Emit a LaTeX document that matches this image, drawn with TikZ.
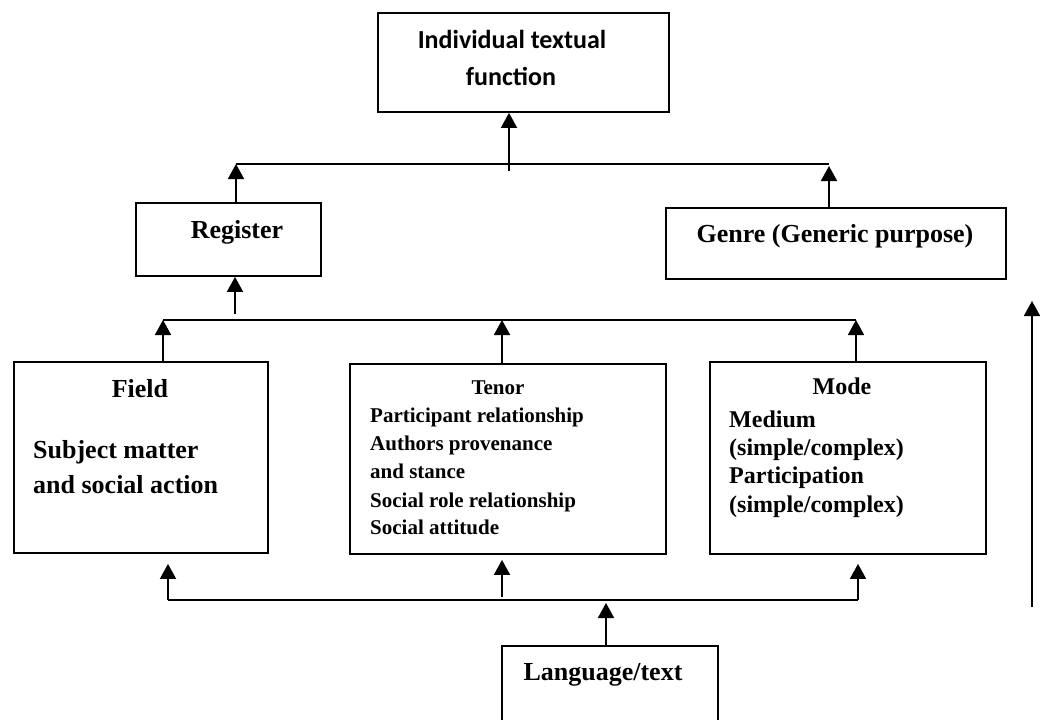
\documentclass[tikz,border=0pt]{standalone}
\usepackage{fontspec}
\setmainfont{Liberation Serif}
\newfontfamily\calibrifont{Carlito}
\usetikzlibrary{positioning}
\usetikzlibrary{arrows.meta}

\begin{document}
\begin{tikzpicture}[x = 1pt, y = -1pt,
	box/.style = {draw = black, line width = 1.9pt, anchor = north west, inner sep = 0pt},
	bus/.style = {black, line width = 1.6pt},
	arrow/.style = {black, line width = 1.8pt, -{Triangle[width = 16pt, length = 15pt]}},
	big/.style = {font = \bfseries\fontsize{26}{30}\selectfont, inner sep = 0pt},
	mid/.style = {font = \bfseries\fontsize{24}{28}\selectfont, inner sep = 0pt},
	small/.style = {font = \bfseries\fontsize{21}{28}\selectfont, inner sep = 0pt}]
	\useasboundingbox (0, 0) rectangle (1042, 720);

	% boxes
	\node (indiv) [box, minimum width = 291pt, minimum height = 99pt] at (377, 12) {};
	\node (register) [box, minimum width = 185pt, minimum height = 73pt] at (135, 202) {};
	\node (genre) [box, minimum width = 340pt, minimum height = 71pt] at (665, 207) {};
	\node (field) [box, minimum width = 254pt, minimum height = 191pt] at (13, 361) {};
	\node (tenor) [box, minimum width = 316pt, minimum height = 190pt] at (349, 363) {};
	\node (mode) [box, minimum width = 276pt, minimum height = 192pt] at (709, 361) {};
	\node (language) [box, minimum width = 216pt, minimum height = 95pt] at (501, 645) {};

	% texts
	\node (indiv-a) [anchor = base, inner sep = 0pt, font = \calibrifont\bfseries\fontsize{26}{30}\selectfont] at (512, 48) {Individual textual};
	\node (indiv-b) [anchor = base, inner sep = 0pt, font = \calibrifont\bfseries\fontsize{26}{30}\selectfont] at (511, 85) {function};
	\node (register-text) [big, anchor = base] at (237, 238) {Register};
	\node (genre-text) [big, anchor = base] at (835, 242) {Genre (Generic purpose)};
	\node (field-title) [big, anchor = base] at (140, 397) {Field};
	\node (field-a) [big, anchor = base west] at (33, 458) {Subject matter};
	\node (field-b) [big, anchor = base west] at (33, 493) {and social action};
	\node (tenor-title) [small, anchor = base] at (498, 394) {Tenor};
	\node (tenor-a) [small, anchor = base west] at (370, 422) {Participant relationship};
	\node (tenor-b) [small, anchor = base west] at (370, 450) {Authors provenance};
	\node (tenor-c) [small, anchor = base west] at (370, 478) {and stance};
	\node (tenor-d) [small, anchor = base west] at (370, 507) {Social role relationship};
	\node (tenor-e) [small, anchor = base west] at (370, 534) {Social attitude};
	\node (mode-title) [mid, anchor = base] at (842, 394) {Mode};
	\node (mode-a) [mid, anchor = base west] at (729, 427) {Medium};
	\node (mode-b) [mid, anchor = base west] at (729, 455) {(simple/complex)};
	\node (mode-c) [mid, anchor = base west] at (729, 483) {Participation};
	\node (mode-d) [mid, anchor = base west] at (729, 512) {(simple/complex)};
	\node (language-text) [big, anchor = base] at (603, 680) {Language/text};

	% bus points
	\coordinate (tb-left) at (236, 164);
	\coordinate (tb-right) at (829, 164);
	\coordinate (tb-stem) at (509, 171);
	\coordinate (mb-left) at (163, 320);
	\coordinate (mb-tenor) at (502, 320);
	\coordinate (mb-right) at (856, 320);
	\coordinate (mb-stem) at (235, 314);
	\coordinate (lb-left) at (168, 600);
	\coordinate (lb-tenor) at (502, 597);
	\coordinate (lb-right) at (858, 600);
	\coordinate (lb-lang) at (606, 600);
	\coordinate (flow-start) at (1032, 607);
	\coordinate (flow-end) at (1032, 301);

	% lines
	\draw [bus] (tb-left) -- (tb-right);
	\draw [bus] (mb-left) -- (mb-right);
	\draw [bus] (lb-left) -- (lb-right);

	% arrows
	\draw [arrow] (tb-stem) -- (tb-stem |- indiv.south);
	\draw [arrow] (register.north -| tb-left) -- (tb-left);
	\draw [arrow, shorten > = 2pt] (genre.north -| tb-right) -- (tb-right);
	\draw [arrow] (mb-stem) -- (mb-stem |- register.south);
	\draw [arrow] (field.north -| mb-left) -- (mb-left);
	\draw [arrow] (tenor.north -| mb-tenor) -- (mb-tenor);
	\draw [arrow] (mode.north -| mb-right) -- (mb-right);
	\draw [arrow, shorten > = 10pt] (lb-left) -- (lb-left |- field.south);
	\draw [arrow, shorten > = 5pt] (lb-tenor) -- (lb-tenor |- tenor.south);
	\draw [arrow, shorten > = 9pt] (lb-right) -- (lb-right |- mode.south);
	\draw [arrow, shorten > = 3pt] (language.north -| lb-lang) -- (lb-lang);
	\draw [arrow] (flow-start) -- (flow-end);
\end{tikzpicture}
\end{document}
